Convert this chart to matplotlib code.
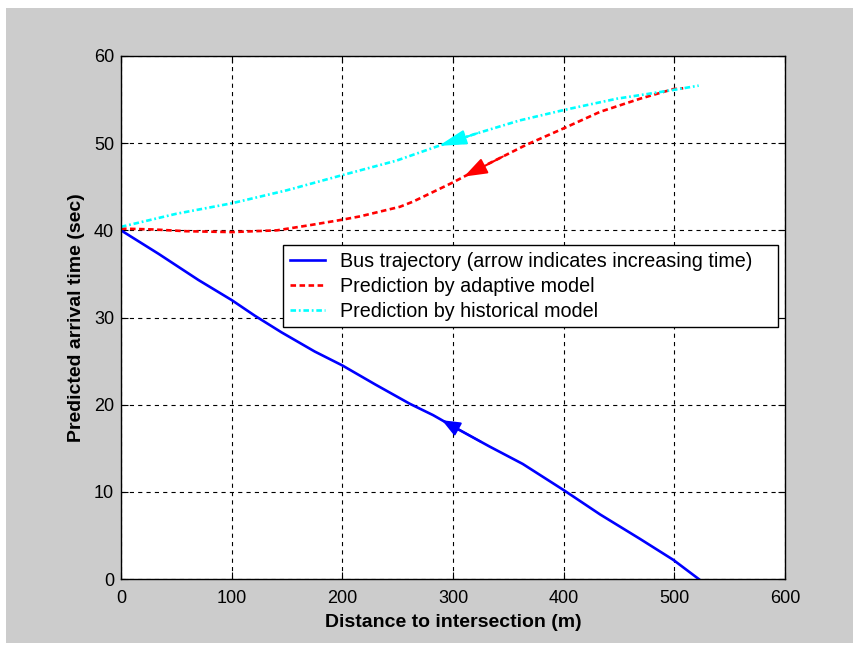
import numpy as np
import matplotlib
matplotlib.use("Agg")
import matplotlib.pyplot as plt
from matplotlib.patches import Rectangle

# bus trajectory (distance m, predicted arrival time sec)
bus_x = [0, 34, 70, 100, 121, 145, 175, 200, 230, 261, 282, 300, 333, 363, 400, 433, 469, 499, 522]
bus_y = [40.0, 37.3, 34.3, 32.0, 30.2, 28.3, 26.1, 24.5, 22.3, 20.1, 18.8, 17.5, 15.2, 13.2, 10.2, 7.4, 4.6, 2.2, 0.0]

# adaptive model prediction
adapt_x = [0, 29, 59, 100, 141, 171, 199, 216, 252, 264, 300, 333, 366, 400, 433, 469, 499, 508]
adapt_y = [40.2, 40.1, 39.9, 39.8, 40.0, 40.6, 41.2, 41.6, 42.7, 43.3, 45.5, 47.7, 49.8, 51.7, 53.6, 55.1, 56.2, 56.3]

# historical model prediction
hist_x = [0, 50, 100, 150, 199, 249, 285, 321, 360, 400, 448, 499, 522]
hist_y = [40.4, 41.9, 43.1, 44.6, 46.3, 48.0, 49.6, 51.1, 52.6, 53.8, 55.1, 56.1, 56.6]

labels = ["Bus trajectory (arrow indicates increasing time)",
          "Prediction by adaptive model",
          "Prediction by historical model"]

plt.rcParams["lines.scale_dashes"] = False
sans = ["Liberation Sans", "DejaVu Sans"]

fig = plt.figure(figsize=(8.54, 6.45), dpi=100)
fig.patch.set_facecolor("white")
fig.patches.append(Rectangle((6 / 854, 0.003), 1, 1 - 8 / 645 - 0.003,
                             transform=fig.transFigure, facecolor="#cccccc",
                             edgecolor="none", zorder=-10))

ax = fig.add_axes([121 / 854, 1 - 579 / 645, 664 / 854, 523 / 645])
ax.set_facecolor("white")

ax.plot(bus_x, bus_y, color="#0000ff", lw=1.9, ls="-", label=labels[0])
ax.plot(adapt_x, adapt_y, color="#ff0000", lw=1.9, ls=(0, (4, 2.5)), label=labels[1])
ax.plot(hist_x, hist_y, color="#00ffff", lw=1.9, ls=(0, (4, 2, 1.3, 2)), label=labels[2])

# arrow heads placed on the curves (pointing toward smaller distance)
def head(xs, ys, x_tip, col, hl, hw):
    tip = (x_tip, np.interp(x_tip, xs, ys))
    base = (x_tip + 35, np.interp(x_tip + 35, xs, ys))
    ax.annotate("", xy=tip, xytext=base,
                arrowprops=dict(arrowstyle="-|>,head_length=%g,head_width=%g" % (hl, hw),
                                color=col, lw=1.5, shrinkA=0, shrinkB=0))

head(bus_x, bus_y, 290, "#0000ff", 1.1, 0.45)
head(adapt_x, adapt_y, 310, "#ff0000", 1.4, 0.5)
head(hist_x, hist_y, 287, "#00ffff", 1.7, 0.45)

ax.set_xlim(0, 600)
ax.set_ylim(0, 60)
ax.set_xticks(np.arange(0, 601, 100))
ax.set_yticks(np.arange(0, 61, 10))
ax.grid(True, color="black", lw=0.8, ls=(0, (3, 3)))
ax.tick_params(direction="in", top=True, right=True, length=5, width=0.8,
               labelsize=13)
ax.tick_params(axis="x", pad=8)
ax.tick_params(axis="y", pad=5)
for t in ax.get_xticklabels() + ax.get_yticklabels():
    t.set_family(sans)
for s in ax.spines.values():
    s.set_linewidth(1.0)

ax.set_xlabel("Distance to intersection (m)", family=sans, fontsize=14,
              fontweight="bold", labelpad=5)
ax.set_ylabel("Predicted arrival time (sec)", family=sans, fontsize=14,
              fontweight="bold", labelpad=6)

leg = ax.legend(loc="upper left", bbox_to_anchor=(0.244, 0.4, 0.745, 0.239),
                mode="expand", fancybox=False, framealpha=1, edgecolor="black",
                prop={"family": sans, "size": 14.2}, handlelength=1.8,
                handletextpad=0.72, borderpad=0.35, labelspacing=0.3,
                borderaxespad=0)
leg.get_frame().set_linewidth(1.0)

fig.savefig("out.png", dpi=100, facecolor=fig.get_facecolor())
